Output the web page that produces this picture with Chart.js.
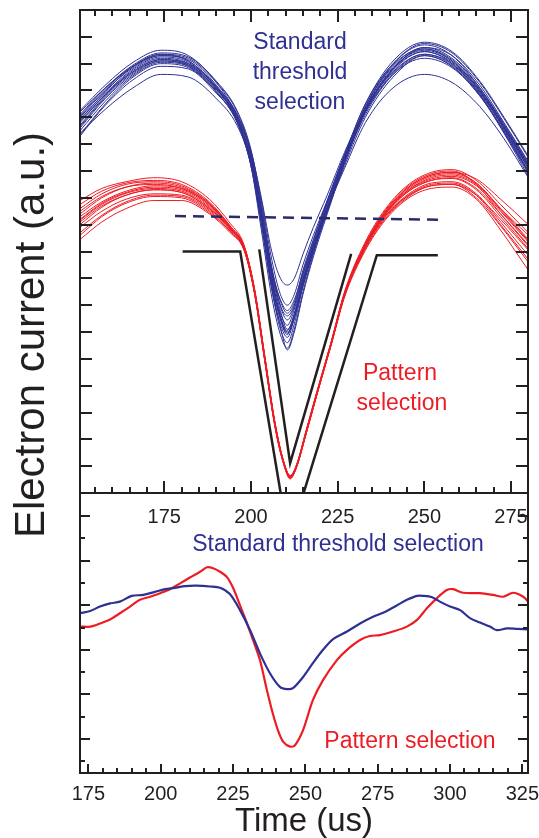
<!DOCTYPE html>
<html>
<head>
<meta charset="utf-8">
<script src="https://cdn.jsdelivr.net/npm/chart.js@4.4.1/dist/chart.umd.min.js"></script>
<style>
  html, body { margin: 0; padding: 0; background: #fff; }
</style>
</head>
<body>
<canvas id="chart" width="539" height="838"></canvas>
<script>
// ---- top panel: overlaid single shots ----
const blueTime = [150.7, 158, 166, 174, 182, 190, 196, 200, 203, 206, 208.5, 210.5, 212.5, 215, 218, 222, 227, 233, 241, 250, 258, 266, 273, 280];
const blueShots = [
    [13.8, 14.85, 15.75, 16.2, 16.0, 15.05, 13.95, 12.45, 10.4, 8.0, 6.7, 6.25, 6.85, 8.0, 9.2, 10.6, 12.4, 14.25, 15.75, 16.45, 16.05, 14.95, 13.6, 12.1],
    [14.25, 15.2, 16.05, 16.5, 16.3, 15.3, 14.0, 12.2, 9.8, 7.3, 5.9, 5.4, 6.1, 7.5, 8.9, 10.5, 12.35, 14.4, 16.0, 16.75, 16.4, 15.3, 13.95, 12.5],
    [13.3, 14.45, 15.4, 15.9, 15.8, 14.9, 13.95, 12.7, 10.9, 8.7, 7.4, 7.0, 7.4, 8.5, 9.6, 10.9, 12.6, 14.2, 15.6, 16.2, 15.85, 14.8, 13.4, 11.8],
    [13.6, 14.7, 15.6, 16.1, 15.95, 15.1, 14.1, 12.6, 10.5, 8.2, 6.8, 6.1, 6.6, 7.8, 9.0, 10.5, 12.2, 14.0, 15.5, 16.3, 15.9, 14.8, 13.5, 12.0],
    [14.0, 15.0, 15.85, 16.3, 16.15, 15.2, 14.0, 12.4, 10.2, 7.7, 6.3, 5.8, 6.5, 7.8, 9.1, 10.7, 12.5, 14.4, 15.9, 16.6, 16.2, 15.1, 13.75, 12.3],
    [13.4, 14.3, 15.1, 15.6, 15.5, 14.7, 13.7, 12.3, 10.4, 8.3, 7.2, 6.8, 7.2, 8.2, 9.3, 10.6, 12.1, 13.8, 15.1, 15.6, 15.3, 14.4, 13.2, 11.75],
    [13.9, 14.95, 15.9, 16.35, 16.1, 15.1, 13.85, 12.2, 10.0, 7.6, 6.1, 5.6, 6.3, 7.7, 9.0, 10.6, 12.45, 14.35, 15.95, 16.55, 16.1, 15.0, 13.65, 12.2],
    [13.7, 14.8, 15.7, 16.15, 15.95, 15.05, 14.05, 12.75, 11.0, 9.0, 8.0, 7.75, 8.0, 8.9, 9.9, 11.1, 12.7, 14.3, 15.7, 16.35, 15.95, 14.9, 13.55, 12.0],
    [14.1, 15.1, 15.9, 16.35, 16.2, 15.3, 14.2, 12.7, 10.6, 8.1, 6.6, 6.0, 6.5, 7.7, 9.0, 10.5, 12.3, 14.2, 15.8, 16.6, 16.3, 15.2, 13.8, 12.35],
    [13.5, 14.6, 15.55, 16.05, 15.9, 15.0, 13.9, 12.35, 10.2, 7.8, 6.45, 5.9, 6.6, 7.9, 9.2, 10.8, 12.6, 14.5, 16.0, 16.7, 16.3, 15.1, 13.7, 12.2],
    [13.95, 14.9, 15.8, 16.25, 16.05, 15.1, 13.9, 12.3, 10.1, 7.6, 6.2, 5.33, 6.0, 7.4, 8.8, 10.4, 12.3, 14.2, 15.8, 16.55, 16.15, 15.05, 13.7, 12.25],
    [14.2, 15.1, 15.95, 16.4, 16.25, 15.35, 14.25, 12.8, 10.8, 8.4, 7.0, 6.6, 7.0, 8.2, 9.4, 10.9, 12.6, 14.5, 16.1, 16.8, 16.45, 15.35, 14.0, 12.55],
    [13.65, 14.75, 15.65, 16.1, 15.9, 14.95, 13.8, 12.2, 10.1, 7.9, 6.55, 6.05, 6.7, 7.95, 9.15, 10.65, 12.35, 14.1, 15.6, 16.3, 15.9, 14.85, 13.45, 11.95],
    [13.85, 14.85, 15.7, 16.15, 16.0, 15.15, 14.1, 12.6, 10.6, 8.3, 6.95, 6.45, 6.95, 8.1, 9.3, 10.8, 12.5, 14.3, 15.8, 16.45, 16.0, 14.85, 13.45, 11.9],
    [14.05, 15.05, 15.9, 16.3, 16.1, 15.15, 13.95, 12.35, 10.3, 7.95, 6.5, 5.95, 6.55, 7.85, 9.1, 10.6, 12.4, 14.3, 15.85, 16.5, 16.1, 15.0, 13.6, 12.1],
    [13.35, 14.5, 15.5, 16.0, 15.85, 14.95, 13.85, 12.5, 10.55, 8.4, 7.15, 6.7, 7.1, 8.3, 9.45, 10.85, 12.5, 14.2, 15.65, 16.35, 16.0, 14.95, 13.6, 12.15]
];

const redTime = [150.7, 157, 164, 172, 180, 188, 194, 198, 201, 204, 207, 209.5, 211.3, 213, 216, 219, 223, 227, 232, 238, 245, 252, 258, 265, 272, 280];
const redShots = [
    [10.17, 10.76, 11.17, 11.35, 11.25, 10.65, 9.85, 9.15, 7.55, 5.0, 2.5, 1.1, 0.6, 0.95, 2.3, 3.7, 5.5, 7.4, 8.95, 10.25, 11.2, 11.65, 11.72, 11.3, 10.3, 9.1],
    [10.9, 11.35, 11.6, 11.75, 11.6, 10.95, 10.05, 9.25, 7.6, 5.05, 2.55, 1.15, 0.62, 0.98, 2.35, 3.75, 5.55, 7.5, 9.1, 10.45, 11.45, 11.95, 12.05, 11.65, 10.75, 9.7],
    [9.45, 10.1, 10.6, 10.9, 10.9, 10.4, 9.7, 9.05, 7.5, 4.95, 2.45, 1.05, 0.55, 0.9, 2.25, 3.65, 5.45, 7.3, 8.8, 10.05, 10.95, 11.35, 11.4, 10.95, 9.8, 8.3],
    [10.4, 11.0, 11.4, 11.55, 11.4, 10.8, 9.95, 9.2, 7.6, 5.1, 2.6, 1.15, 0.65, 1.0, 2.35, 3.75, 5.55, 7.45, 9.0, 10.35, 11.35, 11.85, 11.95, 11.7, 10.95, 10.0],
    [9.9, 10.5, 10.95, 11.15, 11.1, 10.55, 9.8, 9.1, 7.45, 4.9, 2.4, 1.05, 0.58, 0.92, 2.25, 3.65, 5.45, 7.35, 8.9, 10.15, 11.05, 11.5, 11.55, 11.1, 10.0, 8.7],
    [10.6, 11.15, 11.5, 11.6, 11.45, 10.8, 9.9, 9.15, 7.5, 4.95, 2.5, 1.1, 0.6, 0.95, 2.3, 3.7, 5.5, 7.4, 8.95, 10.3, 11.3, 11.8, 11.9, 11.55, 10.6, 9.45],
    [10.0, 10.65, 11.1, 11.3, 11.2, 10.6, 9.85, 9.2, 7.65, 5.1, 2.55, 1.12, 0.6, 0.95, 2.28, 3.68, 5.48, 7.38, 8.9, 10.2, 11.1, 11.55, 11.6, 11.15, 10.1, 8.85],
    [10.3, 10.85, 11.25, 11.45, 11.35, 10.75, 9.9, 9.15, 7.55, 5.0, 2.5, 1.1, 0.58, 0.94, 2.32, 3.72, 5.52, 7.45, 9.05, 10.4, 11.4, 11.9, 12.0, 11.5, 10.4, 9.2],
    [9.7, 10.35, 10.85, 11.1, 11.05, 10.5, 9.75, 9.05, 7.45, 4.9, 2.42, 1.05, 0.52, 0.9, 2.25, 3.68, 5.5, 7.4, 8.95, 10.2, 11.05, 11.45, 11.5, 11.1, 10.2, 9.05],
    [10.75, 11.25, 11.55, 11.65, 11.5, 10.85, 9.95, 9.2, 7.6, 5.05, 2.55, 1.15, 0.65, 1.0, 2.38, 3.78, 5.58, 7.48, 9.0, 10.3, 11.25, 11.7, 11.8, 11.45, 10.5, 9.35],
    [10.2, 10.8, 11.2, 11.4, 11.3, 10.7, 9.85, 9.1, 7.5, 4.95, 2.45, 1.08, 0.56, 0.92, 2.27, 3.67, 5.47, 7.35, 8.85, 10.1, 11.0, 11.45, 11.5, 11.0, 9.95, 8.6],
    [10.5, 11.05, 11.4, 11.5, 11.35, 10.75, 9.9, 9.18, 7.58, 5.05, 2.52, 1.12, 0.62, 0.97, 2.33, 3.73, 5.53, 7.43, 9.0, 10.35, 11.35, 11.85, 11.95, 11.55, 10.55, 9.4],
    [9.6, 10.3, 10.8, 11.05, 11.0, 10.45, 9.75, 9.08, 7.5, 4.98, 2.48, 1.08, 0.58, 0.94, 2.3, 3.7, 5.5, 7.4, 8.95, 10.25, 11.2, 11.65, 11.75, 11.35, 10.4, 9.25],
    [10.1, 10.7, 11.1, 11.3, 11.2, 10.6, 9.85, 9.15, 7.55, 5.0, 2.5, 1.1, 0.6, 0.95, 2.3, 3.7, 5.5, 7.42, 8.98, 10.28, 11.25, 11.75, 11.85, 11.5, 10.6, 9.6]
];

// template (black) and threshold (dashed)
const outerTemplateTime = [180.3, 196.9, 210.9, 236.3, 253.9];
const outerTemplateValue = [9.0, 9.0, -1.8, 8.86, 8.86];
const innerTemplateTime = [202.4, 211.3, 228.9];
const innerTemplateValue = [9.08, 1.11, 8.91];
const thresholdTime = [178.1, 255.4];
const thresholdValue = [10.32, 10.18];

// ---- bottom panel: averages ----
const lowerBlueTime = [172.1, 175.6, 179.0, 182.5, 185.9, 190.0, 194.0, 198.0, 201.5, 204.9, 208.4, 212.4, 217.0, 220.5, 223.9, 227.4, 230.9, 234.3, 237.8, 241.2, 243.7, 245.7, 249.2, 252.6, 256.1, 259.6, 264.4, 268.9, 273.4, 277.5, 281.7, 285.1, 288.6, 290.7, 293.8, 296.5, 300.0, 303.5, 306.9, 310.4, 313.8, 316.2, 319.7, 323.2, 327.0];
const lowerBlueValue = [2.82, 2.87, 2.97, 3.04, 3.08, 3.21, 3.23, 3.30, 3.36, 3.39, 3.43, 3.44, 3.42, 3.39, 3.25, 2.89, 2.44, 1.92, 1.47, 1.17, 1.12, 1.14, 1.39, 1.70, 2.00, 2.24, 2.41, 2.59, 2.74, 2.85, 3.00, 3.12, 3.21, 3.21, 3.18, 3.08, 2.97, 2.89, 2.71, 2.61, 2.52, 2.44, 2.48, 2.47, 2.46];
const lowerRedTime = [172.1, 175.6, 179.0, 182.5, 185.9, 189.4, 192.8, 196.3, 199.8, 203.2, 206.7, 210.1, 213.6, 216.0, 218.1, 220.5, 222.9, 225.0, 227.4, 229.8, 231.9, 234.3, 236.7, 238.8, 240.5, 242.3, 244.7, 246.4, 249.2, 252.6, 256.1, 260.9, 264.4, 268.9, 272.3, 275.8, 280.3, 285.1, 288.6, 292.0, 295.5, 298.9, 301.0, 304.5, 310.4, 314.9, 318.4, 321.8, 325.3, 327.6];
const lowerRedValue = [2.52, 2.52, 2.59, 2.68, 2.82, 2.97, 3.12, 3.19, 3.27, 3.36, 3.49, 3.62, 3.75, 3.85, 3.83, 3.75, 3.63, 3.39, 3.00, 2.60, 2.22, 1.77, 1.10, 0.56, 0.20, -0.06, -0.17, -0.14, 0.20, 0.87, 1.32, 1.77, 2.00, 2.22, 2.31, 2.33, 2.41, 2.52, 2.67, 2.93, 3.16, 3.34, 3.36, 3.28, 3.27, 3.23, 3.19, 3.28, 3.19, 3.04];

const upperTimeTicks = [175, 200, 225, 250, 275];
const lowerTimeTicks = [175, 200, 225, 250, 275, 300, 325];

const BLUE = '#2e3192';
const RED = '#ed1c24';
const INK = '#231f20';
const DASH = '#292c68';
const FONT = '"Liberation Sans", Arial, Helvetica, sans-serif';

Chart.defaults.font.family = FONT;

function pairs(ts, vs) {
    return ts.map((t, i) => ({x: t, y: vs[i]}));
}

let datasets = [];
datasets.push({
    data: pairs(thresholdTime, thresholdValue), xAxisID: 'xTop', yAxisID: 'yTop',
    borderColor: DASH, borderWidth: 2.5, borderDash: [11, 7], order: 0
});
datasets.push({
    data: pairs(outerTemplateTime, outerTemplateValue), xAxisID: 'xTop', yAxisID: 'yTop',
    borderColor: INK, borderWidth: 2.5, order: 0
});
datasets.push({
    data: pairs(innerTemplateTime, innerTemplateValue), xAxisID: 'xTop', yAxisID: 'yTop',
    borderColor: INK, borderWidth: 2.5, order: 0
});
blueShots.forEach(shot => datasets.push({
    data: pairs(blueTime, shot), xAxisID: 'xTop', yAxisID: 'yTop',
    borderColor: BLUE, borderWidth: 1, cubicInterpolationMode: 'monotone', order: 1
}));
redShots.forEach(shot => datasets.push({
    data: pairs(redTime, shot), xAxisID: 'xTop', yAxisID: 'yTop',
    borderColor: RED, borderWidth: 1, cubicInterpolationMode: 'monotone', order: 2
}));
datasets.push({
    data: pairs(lowerBlueTime, lowerBlueValue), xAxisID: 'x', yAxisID: 'y',
    borderColor: BLUE, borderWidth: 2.2, tension: 0.3, order: 1
});
datasets.push({
    data: pairs(lowerRedTime, lowerRedValue), xAxisID: 'x', yAxisID: 'y',
    borderColor: RED, borderWidth: 2.2, tension: 0.3, order: 2
});

// frame, inward ticks, panel labels and axis title
const framePlugin = {
    id: 'frame',
    afterDraw(chart) {
        const {ctx, chartArea: a, scales} = chart;
        const xb = scales.x, yb = scales.y, xt = scales.xTop, yt = scales.yTop;
        ctx.save();
        ctx.strokeStyle = INK;
        ctx.lineWidth = 2;
        ctx.beginPath();
        // top panel x ticks (top edge + bottom edge)
        for (let t = 155; t <= 280; t += 5) {
            const px = Math.round(xt.getPixelForValue(t));
            const len = t % 25 === 0 ? 12 : 6;
            ctx.moveTo(px, yt.top); ctx.lineTo(px, yt.top + len);
            ctx.moveTo(px, yt.bottom); ctx.lineTo(px, yt.bottom - len);
        }
        // top panel y ticks
        for (let v = 1; v <= 17; v++) {
            const py = Math.round(yt.getPixelForValue(v));
            ctx.moveTo(a.left, py); ctx.lineTo(a.left + 12, py);
            ctx.moveTo(a.right, py); ctx.lineTo(a.right - 12, py);
        }
        // bottom panel x ticks
        for (let t = 175; t <= 325; t += 5) {
            const px = Math.round(xb.getPixelForValue(t));
            const len = t % 25 === 0 ? 9 : 5;
            ctx.moveTo(px, yb.bottom); ctx.lineTo(px, yb.bottom - len);
        }
        // bottom panel y ticks
        for (let v = -0.5; v <= 5; v += 0.5) {
            const py = Math.round(yb.getPixelForValue(v));
            const len = Number.isInteger(v) ? 10 : 5;
            ctx.moveTo(a.left, py); ctx.lineTo(a.left + len, py);
            ctx.moveTo(a.right, py); ctx.lineTo(a.right - len, py);
        }
        ctx.stroke();
        ctx.strokeRect(a.left, a.top, a.right - a.left, a.bottom - a.top);
        ctx.beginPath();
        ctx.moveTo(a.left, yt.bottom); ctx.lineTo(a.right, yt.bottom);
        ctx.stroke();

        // top panel tick labels sit just under its axis
        ctx.fillStyle = INK;
        ctx.font = '20px ' + FONT;
        ctx.textAlign = 'center';
        ctx.textBaseline = 'middle';
        upperTimeTicks.forEach(t => ctx.fillText(String(t), xt.getPixelForValue(t), yt.bottom + 24));

        // in-plot labels
        ctx.font = '23px ' + FONT;
        ctx.fillStyle = BLUE;
        ['Standard', 'threshold', 'selection'].forEach((s, i) => ctx.fillText(s, 300, 43 + i * 30));
        ctx.fillText('Standard threshold selection', 338, 545);
        ctx.fillStyle = RED;
        ctx.fillText('Pattern', 400, 374);
        ctx.fillText('selection', 402, 404);
        ctx.fillText('Pattern selection', 410, 742);

        // shared y title
        ctx.fillStyle = INK;
        ctx.font = '42px ' + FONT;
        ctx.translate(32, 335);
        ctx.rotate(-Math.PI / 2);
        ctx.fillText('Electron current (a.u.)', 0, 0);
        ctx.restore();
    }
};

new Chart(document.getElementById('chart'), {
    type: 'line',
    data: {datasets: datasets},
    options: {
        responsive: false,
        devicePixelRatio: 1,
        animation: false,
        layout: {padding: {left: 80, right: 11, top: 10, bottom: 0}},
        elements: {point: {radius: 0}, line: {fill: false}},
        plugins: {legend: {display: false}, tooltip: {enabled: false}},
        scales: {
            x: {
                type: 'linear', position: 'bottom', min: 172.1, max: 326.96,
                afterBuildTicks: s => { s.ticks = lowerTimeTicks.map(v => ({value: v})); },
                afterFit: s => { s.height = 65; s.paddingLeft = 0; s.paddingRight = 0; },
                ticks: {font: {size: 20}, color: INK, padding: 1, maxRotation: 0, autoSkip: false},
                grid: {display: false},
                border: {display: false},
                title: {display: true, text: 'Time (us)', font: {size: 33, lineHeight: 1}, color: INK, padding: {top: 0, bottom: 0}}
            },
            xTop: {type: 'linear', display: false, min: 150.7, max: 279.9},
            y: {
                type: 'linear', position: 'left', display: false, stack: 'panels', stackWeight: 280, weight: 1,
                min: -0.762, max: 5.516
            },
            yTop: {
                type: 'linear', position: 'left', display: false, stack: 'panels', stackWeight: 483, weight: 2,
                min: 0, max: 18
            }
        }
    },
    plugins: [framePlugin]
});
</script>
</body>
</html>
